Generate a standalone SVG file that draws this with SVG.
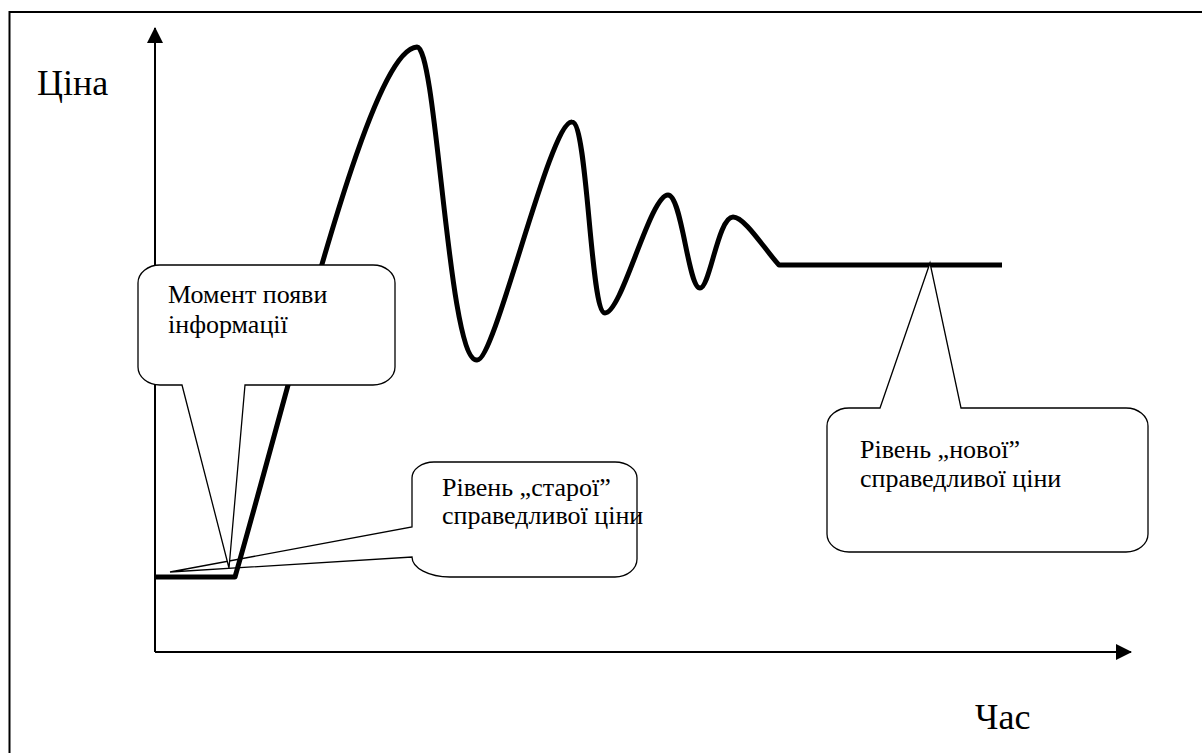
<svg xmlns="http://www.w3.org/2000/svg" width="1202" height="753" viewBox="0 0 1202 753">
<defs>
<style>
.frame{fill:none;stroke:#000;stroke-width:2}
.axis{fill:none;stroke:#000;stroke-width:2}
.curve{fill:none;stroke:#000;stroke-width:5;stroke-linejoin:round}
.call{fill:#fff;stroke:#000;stroke-width:1.3;stroke-linejoin:miter}
text{font-family:"Times New Roman","Liberation Serif",Tinos,"DejaVu Serif",serif;fill:#000}
.big{font-size:36px}
.small{font-size:26px}
</style>
<marker id="arr" viewBox="0 0 16 16" refX="15" refY="8" markerWidth="16" markerHeight="16" markerUnits="userSpaceOnUse" orient="auto">
<path d="M0,0 L16,8 L0,16 Z" fill="#000"/>
</marker>
</defs>
<rect width="1202" height="753" fill="#fff"/>
<g id="frame">
<path class="frame" d="M9.5,753 V12 H1202"/>
</g>
<g id="connectors">
<path class="axis" d="M155,652 V28" marker-end="url(#arr)"/>
<path class="axis" d="M155,652 H1131" marker-end="url(#arr)"/>
</g>
<g id="callout-old">
<path class="call" d="M434,462 H615 A22,16 0 0 1 637,478 V559 A22,18 0 0 1 615,577 H450 A38,20 0 0 1 412,557 L170,572 L412,527 V478 A22,16 0 0 1 434,462 Z"/>
<text class="small" x="442" y="496">Рівень „старої”</text>
<text class="small" x="442" y="524">справедливої ціни</text>
</g>
<g id="price-curve">
<path class="curve" d="M155,577 H235 C300,350 370,50 417,47 C437,47 448,362 477,360 C495,362 550,120 572,122 C588,122 590,313 605,313 C622,313 650,195 668,195 C682,195 688,288 700,288 C710,288 718,217 733,217 C745,217 765,250 779,265 H1002"/>
</g>
<g id="callout-moment">
<path class="call" d="M160,265 H373 A22,18 0 0 1 395,283 V367 A22,18 0 0 1 373,385 H245 L229,568 L182,385 H160 A22,18 0 0 1 138,367 V283 A22,18 0 0 1 160,265 Z"/>
<text class="small" x="168" y="303">Момент появи</text>
<text class="small" x="168" y="333">інформації</text>
</g>
<g id="callout-new">
<path class="call" d="M849,408 H880 L930,263 L961,408 H1126 A22,18 0 0 1 1148,426 V534 A22,18 0 0 1 1126,552 H849 A22,18 0 0 1 827,534 V426 A22,18 0 0 1 849,408 Z"/>
<text class="small" x="860" y="458">Рівень „нової”</text>
<text class="small" x="860" y="487">справедливої ціни</text>
</g>
<g id="axis-labels">
<text class="big" x="37" y="95">Ціна</text>
<text class="big" x="975" y="729">Час</text>
</g>
</svg>
